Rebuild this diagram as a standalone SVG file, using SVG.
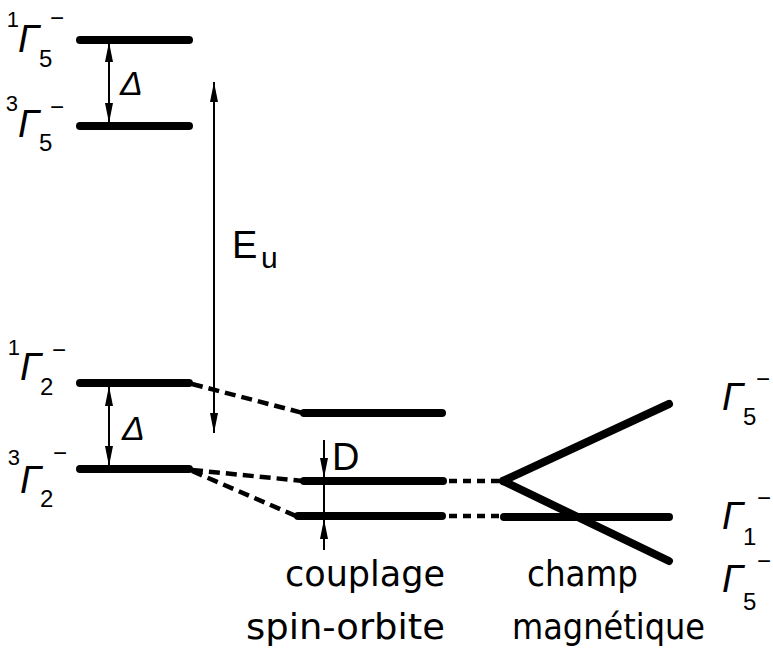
<svg xmlns="http://www.w3.org/2000/svg" width="773" height="653" viewBox="0 0 773 653">
<style>
text{font-family:"Liberation Sans",Arial,sans-serif;fill:#000}
.g{font-size:38px;font-style:italic}
.sub{font-size:24px}
.sup{font-size:22px;text-anchor:end}
.mn{font-size:24px}
.lev{stroke:#000;stroke-width:8;stroke-linecap:round;fill:none}
.thin{stroke:#000;stroke-width:2;fill:none}
.dash{stroke:#000;stroke-width:4.5;stroke-dasharray:11 6;fill:none}
.dd{stroke:#000;stroke-width:4.5;stroke-dasharray:8 6;fill:none}
.cap{font-family:"DejaVu Sans","Liberation Sans",sans-serif;font-size:36px}
</style>
<defs>
<marker id="ah" markerUnits="userSpaceOnUse" markerWidth="20" markerHeight="8" refX="20" refY="4" orient="auto-start-reverse">
<path d="M0,0 L20,4 L0,8 z" fill="#000"/>
</marker>
</defs>
<rect width="773" height="653" fill="#fff"/>

<g id="level-1G5">
<line class="lev" x1="80" y1="40" x2="189" y2="40"/>
<text class="sup" x="19" y="27">1</text>
<text class="g" x="18" y="52">Γ</text>
<text class="sub" x="39" y="67">5</text>
<text class="mn" x="50" y="26">−</text>
</g>
<g id="level-3G5">
<line class="lev" x1="80" y1="126" x2="189" y2="126"/>
<text class="sup" x="18" y="111">3</text>
<text class="g" x="18" y="137">Γ</text>
<text class="sub" x="39" y="151">5</text>
<text class="mn" x="50" y="115">−</text>
</g>
<g id="level-1G2">
<line class="lev" x1="80" y1="383" x2="189" y2="383"/>
<text class="sup" x="20" y="355">1</text>
<text class="g" x="20" y="380">Γ</text>
<text class="sub" x="40" y="395">2</text>
<text class="mn" x="52" y="358">−</text>
</g>
<g id="level-3G2">
<line class="lev" x1="80" y1="469" x2="189" y2="469"/>
<text class="sup" x="20" y="465">3</text>
<text class="g" x="20" y="493">Γ</text>
<text class="sub" x="40" y="507">2</text>
<text class="mn" x="53" y="461">−</text>
</g>

<g id="so-top"><line class="lev" x1="304" y1="413" x2="442" y2="413"/></g>
<g id="so-mid"><line class="lev" x1="304" y1="481" x2="443" y2="481"/></g>
<g id="so-low"><line class="lev" x1="298" y1="516" x2="442" y2="516"/></g>

<g id="mag">
<line class="lev" x1="503" y1="481" x2="669" y2="404" stroke-width="7"/>
<line class="lev" x1="503" y1="481" x2="669" y2="561" stroke-width="7"/>
<line class="lev" x1="504" y1="517" x2="669" y2="517"/>
</g>

<g id="label-G5-top">
<text class="g" x="722" y="410">Γ</text>
<text class="sub" x="743" y="425">5</text>
<text class="mn" x="756" y="387">−</text>
</g>
<g id="label-G1">
<text class="g" x="722" y="529">Γ</text>
<text class="sub" x="743" y="545">1</text>
<text class="mn" x="757" y="506">−</text>
</g>
<g id="label-G5-low">
<text class="g" x="722" y="592">Γ</text>
<text class="sub" x="743" y="610">5</text>
<text class="mn" x="757" y="569">−</text>
</g>

<g id="connectors">
<line class="thin" x1="109" y1="42" x2="109" y2="123" marker-start="url(#ah)" marker-end="url(#ah)"/>
<line class="thin" x1="109" y1="386" x2="109" y2="466" marker-start="url(#ah)" marker-end="url(#ah)"/>
<line class="thin" x1="214" y1="82" x2="214" y2="433" marker-start="url(#ah)" marker-end="url(#ah)"/>
<line class="thin" x1="324" y1="440" x2="324" y2="478" marker-end="url(#ah)"/>
<line class="thin" x1="324" y1="478" x2="324" y2="520"/>
<line class="thin" x1="324" y1="550" x2="324" y2="519" marker-end="url(#ah)"/>
<line class="dash" x1="192" y1="384" x2="303" y2="413"/>
<line class="dash" x1="192" y1="470" x2="303" y2="481"/>
<line class="dash" x1="192" y1="471" x2="296" y2="516"/>
<line class="dd" x1="449" y1="481" x2="500" y2="481"/>
<line class="dd" x1="449" y1="516" x2="500" y2="516"/>
</g>

<g id="labels">
<text x="120" y="95" font-size="34" font-style="italic">Δ</text>
<text x="122" y="440" font-size="34" font-style="italic">Δ</text>
<text x="232" y="258" font-size="38">E</text>
<text x="261" y="268" font-size="30">u</text>
<text x="332" y="470" font-size="38">D</text>
<text class="cap" x="285" y="586" textLength="160" lengthAdjust="spacingAndGlyphs">couplage</text>
<text class="cap" x="246" y="639" textLength="199" lengthAdjust="spacingAndGlyphs">spin-orbite</text>
<text class="cap" x="527" y="586" textLength="111" lengthAdjust="spacingAndGlyphs">champ</text>
<text class="cap" x="512" y="639" textLength="193" lengthAdjust="spacingAndGlyphs">magnétique</text>
</g>
</svg>
